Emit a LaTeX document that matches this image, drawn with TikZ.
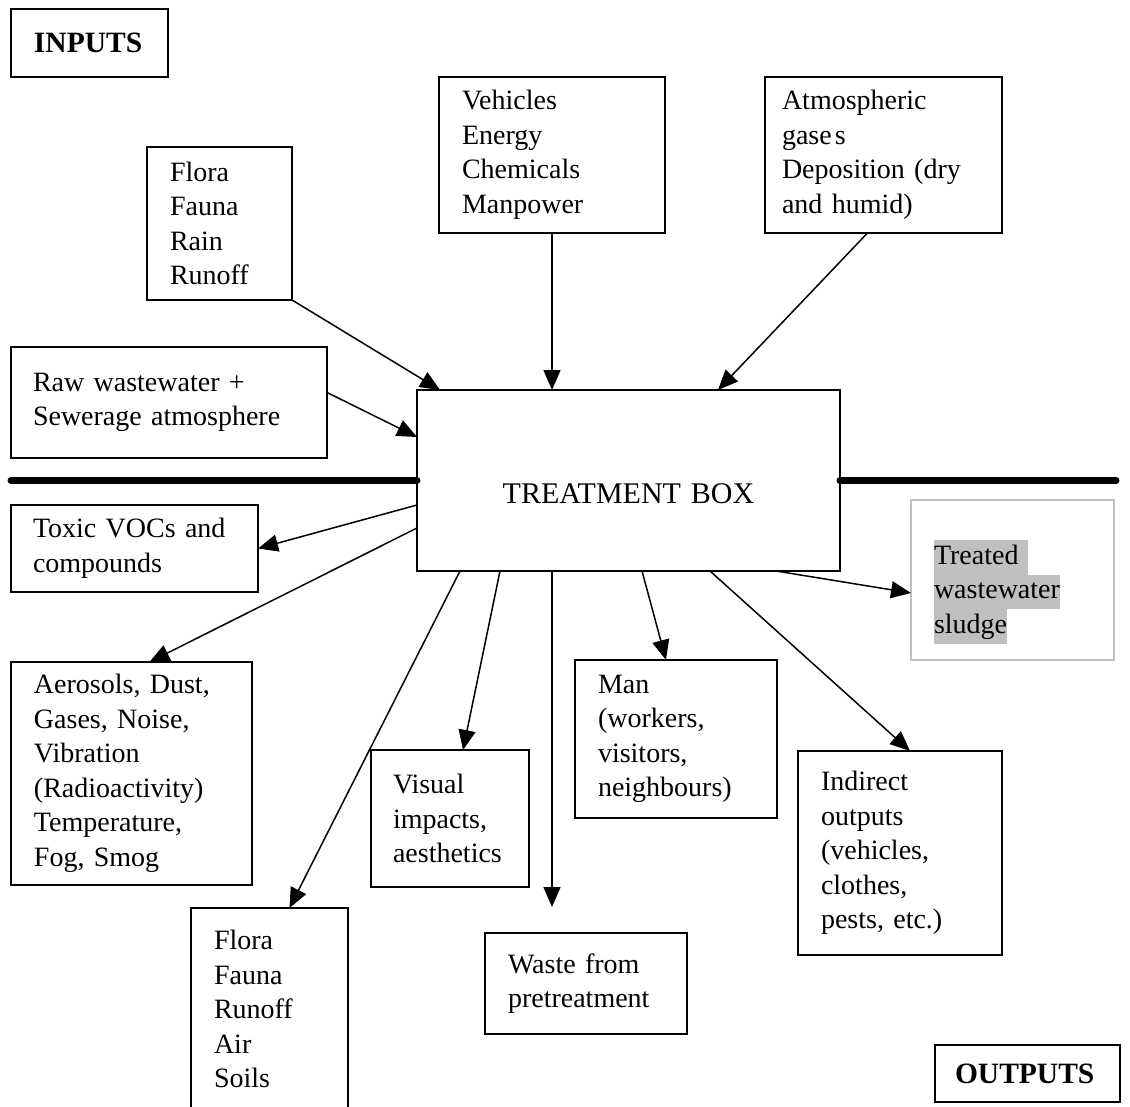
\documentclass[tikz,border=0pt]{standalone}
\usepackage{fontspec}
\setmainfont{Liberation Serif}
\usetikzlibrary{arrows.meta}
\definecolor{hlgray}{RGB}{192,192,192}
\newcommand{\hlline}[1]{{\setlength{\fboxsep}{0pt}\colorbox{hlgray}{\strut #1}}}

\begin{document}
\begin{tikzpicture}[x=1pt,y=-1pt,
    box/.style={draw,line width=2pt,rectangle,anchor=north west,align=left,
      inner xsep=23pt,inner ysep=0pt,outer sep=0pt,
      font=\fontsize{28}{34.5}\selectfont},
    title/.style={box,font=\fontsize{29.5}{34}\selectfont\bfseries},
    flow/.style={-{Triangle[length=20pt,width=17pt]},line width=1.5pt},
    sep/.style={line width=7pt,line cap=round}]
    \useasboundingbox (0,0) rectangle (1130,1107);

    % inputs, above the line
    \node[title,minimum width=157,minimum height=68,text width=111] (inputs) at (11,9) {INPUTS};
    \node[box,minimum width=145,minimum height=153,text width=99] (flora) at (147,147)
      {Flora\\Fauna\\Rain\\Runoff};
    \node[box,minimum width=226,minimum height=156,text width=180] (vehicles) at (439,77)
      {Vehicles\\Energy\\Chemicals\\Manpower};
    \node[box,inner xsep=17pt,minimum width=237,minimum height=156,text width=203] (atmos) at (765,77)
      {Atmospheric\\gase\kern3pt s\\Deposition (dry\\and humid)};
    \node[box,inner xsep=22pt,minimum width=316,minimum height=111,text width=272] (raw) at (11,347)
      {Raw wastewater +\\Sewerage atmosphere};

    \node[box,align=center,minimum width=423,minimum height=181,text width=377,
      text height=50pt,text depth=5pt,
      font=\fontsize{30}{34}\selectfont] (tb) at (417,390) {TREATMENT BOX};

    % outputs, below the line
    \node[box,inner xsep=22pt,minimum width=247,minimum height=87,text width=203] (toxic) at (11,505)
      {Toxic VOCs and\\compounds};
    \node[box,draw=hlgray,line width=1.5pt,minimum width=203,minimum height=160,text width=157] (treated) at (911,500)
      {\rule{0pt}{48pt}\hlline{Treated\ }\\\hlline{wastewater}\\\hlline{sludge}};
    \node[box,minimum width=241,minimum height=223,text width=195] (aerosols) at (11,662)
      {Aerosols, Dust,\\Gases, Noise,\\Vibration\\(Radioactivity)\\Temperature,\\Fog, Smog};
    \node[box,inner xsep=22pt,minimum width=158,minimum height=137,text width=114] (visual) at (371,750)
      {Visual\\impacts,\\aesthetics};
    \node[box,minimum width=202,minimum height=158,text width=156] (man) at (575,660)
      {Man\\(workers,\\visitors,\\neighbours)};
    \node[box,minimum width=204,minimum height=204,text width=158] (indirect) at (798,751)
      {Indirect\\outputs\\(vehicles,\\clothes,\\pests, etc.)};
    \node[box,minimum width=202,minimum height=101,text width=156] (waste) at (485,933)
      {Waste from\\pretreatment};
    \node[box,minimum width=157,minimum height=202,text width=111] (florab) at (191,908)
      {Flora\\Fauna\\Runoff\\Air\\Soils};
    \node[title,inner xsep=20pt,minimum width=185,minimum height=57,text width=145] (outputs) at (935,1045) {OUTPUTS};

    % the dividing line
    \coordinate (sepL) at (11,480.5);
    \coordinate (sepR) at (1116,480.5);
    \draw[sep] (sepL) -- (tb.west);
    \draw[sep] (tb.east) -- (sepR);

    % arrows into the box
    \draw[flow] (flora.south east) -- ([xshift=23pt]tb.north west);
    \draw[flow] (vehicles.south) -- (vehicles.south |- tb.north);
    \draw[flow] ([xshift=-16pt]atmos.south) -- ([xshift=301pt]tb.north west);
    \draw[flow] ([yshift=10pt]raw.east) -- ([yshift=43.5pt]tb.west);

    % arrows out of the box
    \coordinate (wasteTip) at ([xshift=-34pt,yshift=26pt]waste.north);
    \draw[flow] ([yshift=-24.5pt]tb.west) -- (toxic.east);
    \draw[flow] ([yshift=-47.5pt]tb.west) -- ([xshift=18pt]aerosols.north);
    \draw[flow] ([xshift=43pt]tb.south west) -- ([xshift=20pt]florab.north);
    \draw[flow] ([xshift=83pt]tb.south west) -- ([xshift=13pt]visual.north);
    \draw[flow] (wasteTip |- tb.south) -- (wasteTip);
    \draw[flow] ([xshift=225pt]tb.south west) -- ([xshift=-10pt]man.north);
    \draw[flow] ([xshift=293pt]tb.south west) -- ([xshift=10pt]indirect.north);
    \draw[flow] ([xshift=359pt]tb.south west) -- ([yshift=-13pt]treated.west);
\end{tikzpicture}
\end{document}
